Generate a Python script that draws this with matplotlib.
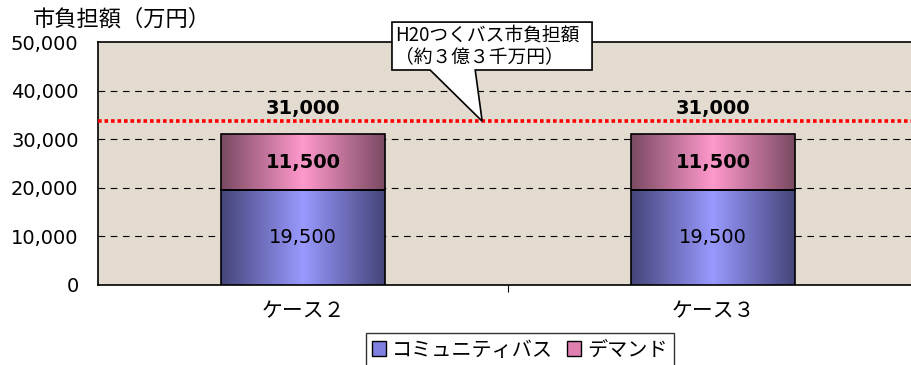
import numpy as np
import matplotlib.pyplot as plt
from matplotlib.patches import Polygon, Rectangle
from matplotlib.colors import LinearSegmentedColormap

plt.rcParams['font.family'] = ['DejaVu Sans', 'Noto Sans CJK JP']

# data
cases = ['ケース２', 'ケース３']
community = [19500, 19500]
demand = [11500, 11500]
totals = [31000, 31000]
h20_level = 33700
yticks = [0, 10000, 20000, 30000, 40000, 50000]

fig = plt.figure(figsize=(9.11, 3.65), dpi=100)
ax = fig.add_axes([98 / 911, 80 / 365, 820 / 911, 243 / 365])
ax.set_facecolor('#E3DBCF')

x = np.arange(len(cases))
w = 0.4

blue = LinearSegmentedColormap.from_list('b', ['#45457A', '#9999FF', '#45457A'])
pink = LinearSegmentedColormap.from_list('p', ['#7A4A62', '#FF99CC', '#7A4A62'])
grad = np.linspace(0, 1, 256).reshape(1, -1)

for i in range(len(cases)):
    for bottom, h, cm in [(0, community[i], blue), (community[i], demand[i], pink)]:
        r = Rectangle((x[i] - w / 2, bottom), w, h, facecolor='none',
                      edgecolor='black', linewidth=1.2, zorder=4)
        ax.add_patch(r)
        im = ax.imshow(grad, cmap=cm, aspect='auto', zorder=3,
                       extent=(x[i] - w / 2, x[i] + w / 2, bottom, bottom + h))
        im.set_clip_path(r)
    ax.text(x[i], community[i] / 2, f'{community[i]:,}', ha='center', va='center',
            fontsize=14, zorder=5)
    ax.text(x[i], community[i] + demand[i] / 2, f'{demand[i]:,}', ha='center',
            va='center', fontsize=14, fontweight='bold', zorder=5)
    ax.text(x[i], totals[i] + 5400, f'{totals[i]:,}', ha='center', va='center',
            fontsize=14, fontweight='bold', zorder=5)

ax.set_xlim(-0.5, 1.5)
ax.set_ylim(0, 50000)

for yv in yticks[1:-1]:
    ax.axhline(yv, color='black', linestyle=(0, (6, 5)), linewidth=0.8, zorder=1)
ax.axhline(h20_level, color='red', linestyle=(0, (1, 0.8)), linewidth=2.6, zorder=6)

ax.set_yticks(yticks)
ax.set_yticklabels([f'{v:,}' for v in yticks], fontsize=14)
ax.set_xticks([0.5])
ax.set_xticklabels([''])
for i, c in enumerate(cases):
    ax.text(x[i], -3200, c, ha='center', va='top', fontsize=15,
            family=['Noto Sans CJK JP'])
ax.tick_params(axis='y', length=0, pad=14)
ax.tick_params(axis='x', length=5, direction='out')
ax.spines['right'].set_visible(False)
for s in ['left', 'bottom', 'top']:
    ax.spines[s].set_linewidth(1.2)

fig.text(33 / 911, 1 - 19 / 365, '市負担額（万円）', fontsize=16, va='center',
         family=['Noto Sans CJK JP'])

# callout
callout = Polygon([(0.217, 54100), (0.705, 54100), (0.705, 44240), (0.42, 44240),
                   (0.437, h20_level), (0.31, 44240), (0.217, 44240)],
                  closed=True, facecolor='white', edgecolor='black', linewidth=1.2,
                  clip_on=False, zorder=7)
ax.add_patch(callout)
ax.text(0.225, 49200, 'H20つくバス市負担額\n（約３億３千万円）', fontsize=13.5,
        va='center', ha='left', linespacing=1.05, zorder=8,
        family=['Noto Sans CJK JP'])

# legend
leg_handles = [Rectangle((0, 0), 1, 1, facecolor='#8080E0', edgecolor='black'),
               Rectangle((0, 0), 1, 1, facecolor='#E080B0', edgecolor='black')]
leg = fig.legend(leg_handles, ['コミュニティバス', 'デマンド'], loc='center',
                 bbox_to_anchor=(520 / 911, 1 - 350 / 365), ncol=2,
                 frameon=True, fancybox=False, edgecolor='black', handlelength=0.7,
                 handleheight=0.7, handletextpad=0.3, columnspacing=0.7,
                 borderpad=0.3, prop={'family': ['Noto Sans CJK JP'], 'size': 14.5})
leg.get_frame().set_linewidth(1.0)

fig.savefig('out.png', dpi=100)
